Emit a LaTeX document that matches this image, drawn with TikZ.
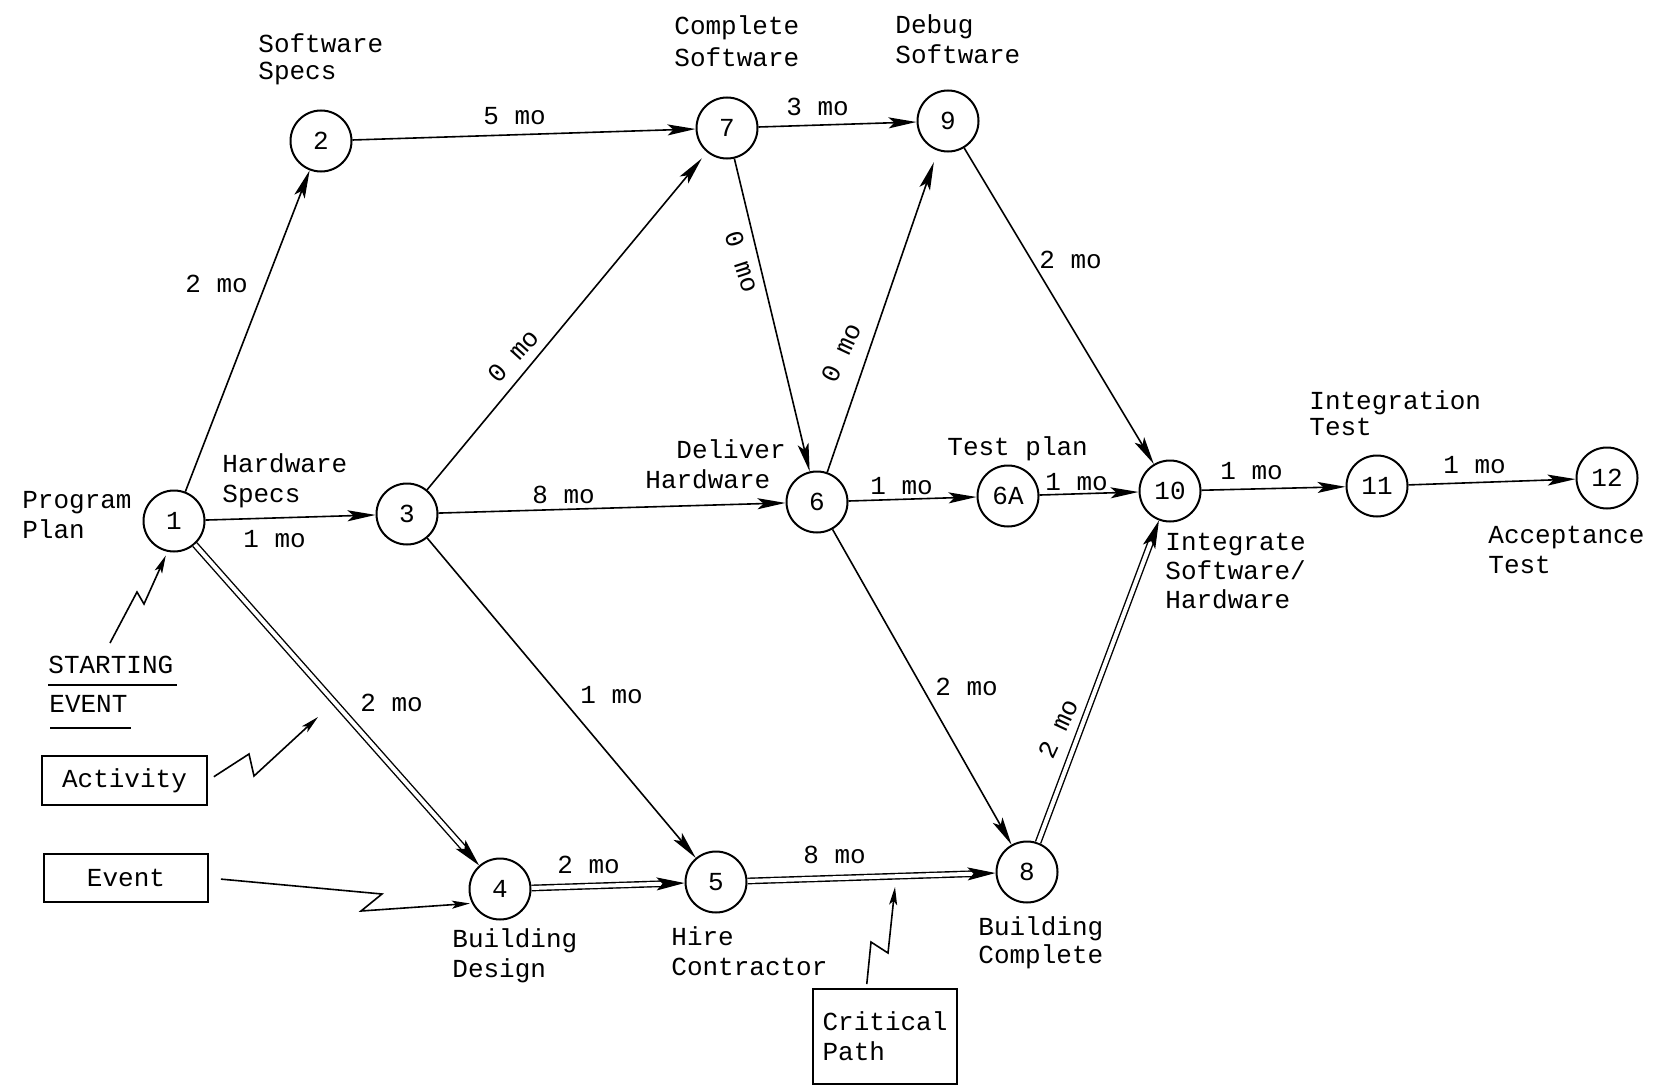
\documentclass[tikz,border=0pt]{standalone}
\usepackage{fontspec}
\setmainfont{Liberation Mono}
\usetikzlibrary{arrows.meta}
\begin{document}
\begin{tikzpicture}[x=0.5pt,y=-0.5pt,
  font=\fontsize{13pt}{15pt}\selectfont,
  ev/.style={circle,draw,line width=1pt,minimum size=30.5pt,inner sep=0pt},
  act/.style={line width=0.8pt,-{Stealth[length=14pt,width=5.5pt,inset=3pt]}},
  crit/.style={double,line width=0.7pt,double distance=2pt,-{Stealth[length=14pt,width=6.5pt,inset=3pt]}},
  zig/.style={line width=0.8pt,-{Stealth[length=9pt,width=4pt,inset=2pt]}},
  lbl/.style={inner sep=0pt,anchor=base west,align=left},
  dur/.style={inner sep=0pt,anchor=base west},
  rdur/.style={inner sep=0pt,anchor=center},
  legend/.style={draw,line width=1pt,inner sep=0pt}]
\useasboundingbox[fill=white] (0,0) rectangle (1654,1086);

% events
\node[ev] (n1) at (174,521) {1};
\node[ev] (n2) at (321,141) {2};
\node[ev] (n3) at (407,514) {3};
\node[ev] (n4) at (500,889) {4};
\node[ev] (n5) at (716,882) {5};
\node[ev] (n6) at (817,502) {6};
\node[ev] (n6a) at (1008,496) {6A};
\node[ev] (n7) at (727,128) {7};
\node[ev] (n8) at (1027,872) {8};
\node[ev] (n9) at (948,121) {9};
\node[ev] (n10) at (1170,491) {10};
\node[ev] (n11) at (1377,486) {11};
\node[ev] (n12) at (1607,478) {12};

% event labels (anchor = baseline of the last line)
\node[lbl,font=\fontsize{13pt}{13.5pt}\selectfont] (tswspec) at (258,80) {Software\\Specs};
\node[lbl,font=\fontsize{13pt}{16pt}\selectfont] (tcompsw) at (674,67) {Complete\\Software};
\node[lbl] (tdebug) at (895,64) {Debug\\Software};
\node[lbl] (tprog) at (22,538) {Program\\Plan};
\node[lbl] (thwspec) at (222,502) {Hardware\\Specs};
\node[lbl] (tdeliver) at (645,488) {\hspace*{15.5pt}Deliver\\Hardware};
\node[dur] (ttest) at (947,455) {Test plan};
\node[lbl,font=\fontsize{13pt}{13pt}\selectfont] (tinteg) at (1309,435) {Integration\\Test};
\node[lbl] (taccept) at (1488,573) {Acceptance\\Test};
\node[lbl,font=\fontsize{13pt}{14.5pt}\selectfont] (tintsw) at (1165,608) {Integrate\\Software/\\Hardware};
\node[lbl] (tbdesign) at (452,977) {Building\\Design};
\node[lbl] (thire) at (671,975) {Hire\\Contractor};
\node[lbl,font=\fontsize{13pt}{14pt}\selectfont] (tbcomp) at (978,963) {Building\\Complete};

% activities
\draw[act] (n1) -- (n2);
\draw[act] (n2) -- (n7);
\draw[act] (n7) -- (n9);
\draw[act] (n1) -- (n3);
\draw[act,shorten >=4pt] (n3) -- (n7);
\draw[act] (n3) -- (n6);
\draw[act] (n3) -- (n5);
\draw[act] (n7) -- (n6);
\draw[act,shorten >=6pt] (n6) -- (n9);
\draw[act] (n6) -- (n6a);
\draw[act] (n6a) -- (n10);
\draw[act] (n6) -- (n8);
\draw[act] (n9) -- (n10);
\draw[act] (n10) -- (n11);
\draw[act] (n11) -- (n12);
% critical path
\draw[crit] (n1) -- (n4);
\draw[crit] (n4) -- (n5);
\draw[crit] (n5) -- (n8);
\draw[crit] (n8) -- (n10);

% durations
\node[dur] (d12) at (185,292) {2 mo};
\node[dur] (d27) at (483,125) {5 mo};
\node[dur] (d79) at (786,116) {3 mo};
\node[dur] (d13) at (243,547) {1 mo};
\node[rdur,rotate=48] (d37) at (513,356) {0 mo};
\node[dur] (d36) at (532,503) {8 mo};
\node[rdur,rotate=-72] (d76) at (742,262) {0 mo};
\node[rdur,rotate=65] (d69) at (841,353) {0 mo};
\node[dur] (d66a) at (870,494) {1 mo};
\node[dur] (d6a10) at (1045,490) {1 mo};
\node[dur] (d910) at (1039,268) {2 mo};
\node[dur] (d1011) at (1220,479) {1 mo};
\node[dur] (d1112) at (1443,473) {1 mo};
\node[dur] (d14) at (360,711) {2 mo};
\node[dur] (d35) at (580,703) {1 mo};
\node[dur] (d68) at (935,695) {2 mo};
\node[dur] (d45) at (557,873) {2 mo};
\node[dur] (d58) at (803,863) {8 mo};
\node[rdur,rotate=65] (d810) at (1058,729) {2 mo};

% legend
\node[dur] (tstart) at (48,673) {STARTING};
\node[dur] (tevent) at (49,712) {EVENT};
\draw[line width=1pt] (48,685) -- (177,685);
\draw[line width=1pt] (50,728) -- (131,728);
\node[legend,minimum width=82.5pt,minimum height=24.5pt] (bact) at (124.5,780.5) {Activity};
\node[legend,minimum width=82pt,minimum height=24pt] (bevent) at (126,878) {Event};
\node[legend,minimum width=72pt,minimum height=47.5pt,align=left] (bcrit) at (885,1036.5) {Critical\\Path};

\coordinate (zs) at (110,643);
\coordinate (za) at (318,717);
\coordinate (zc) at (895,887);
\draw[zig,shorten >=2pt] (zs) -- (137,592) -- (144,604) -- (n1.258);
\draw[zig,shorten <=3.5pt] (bact.east) -- (249,754) -- (254,776) -- (za);
\draw[zig,shorten <=6pt,shorten >=1pt] (bevent.east) -- (382,894) -- (361,911) -- (n4.207);
\draw[zig,shorten <=2pt] (bcrit.111) -- (871,942) -- (888,953) -- (zc);
\end{tikzpicture}
\end{document}
